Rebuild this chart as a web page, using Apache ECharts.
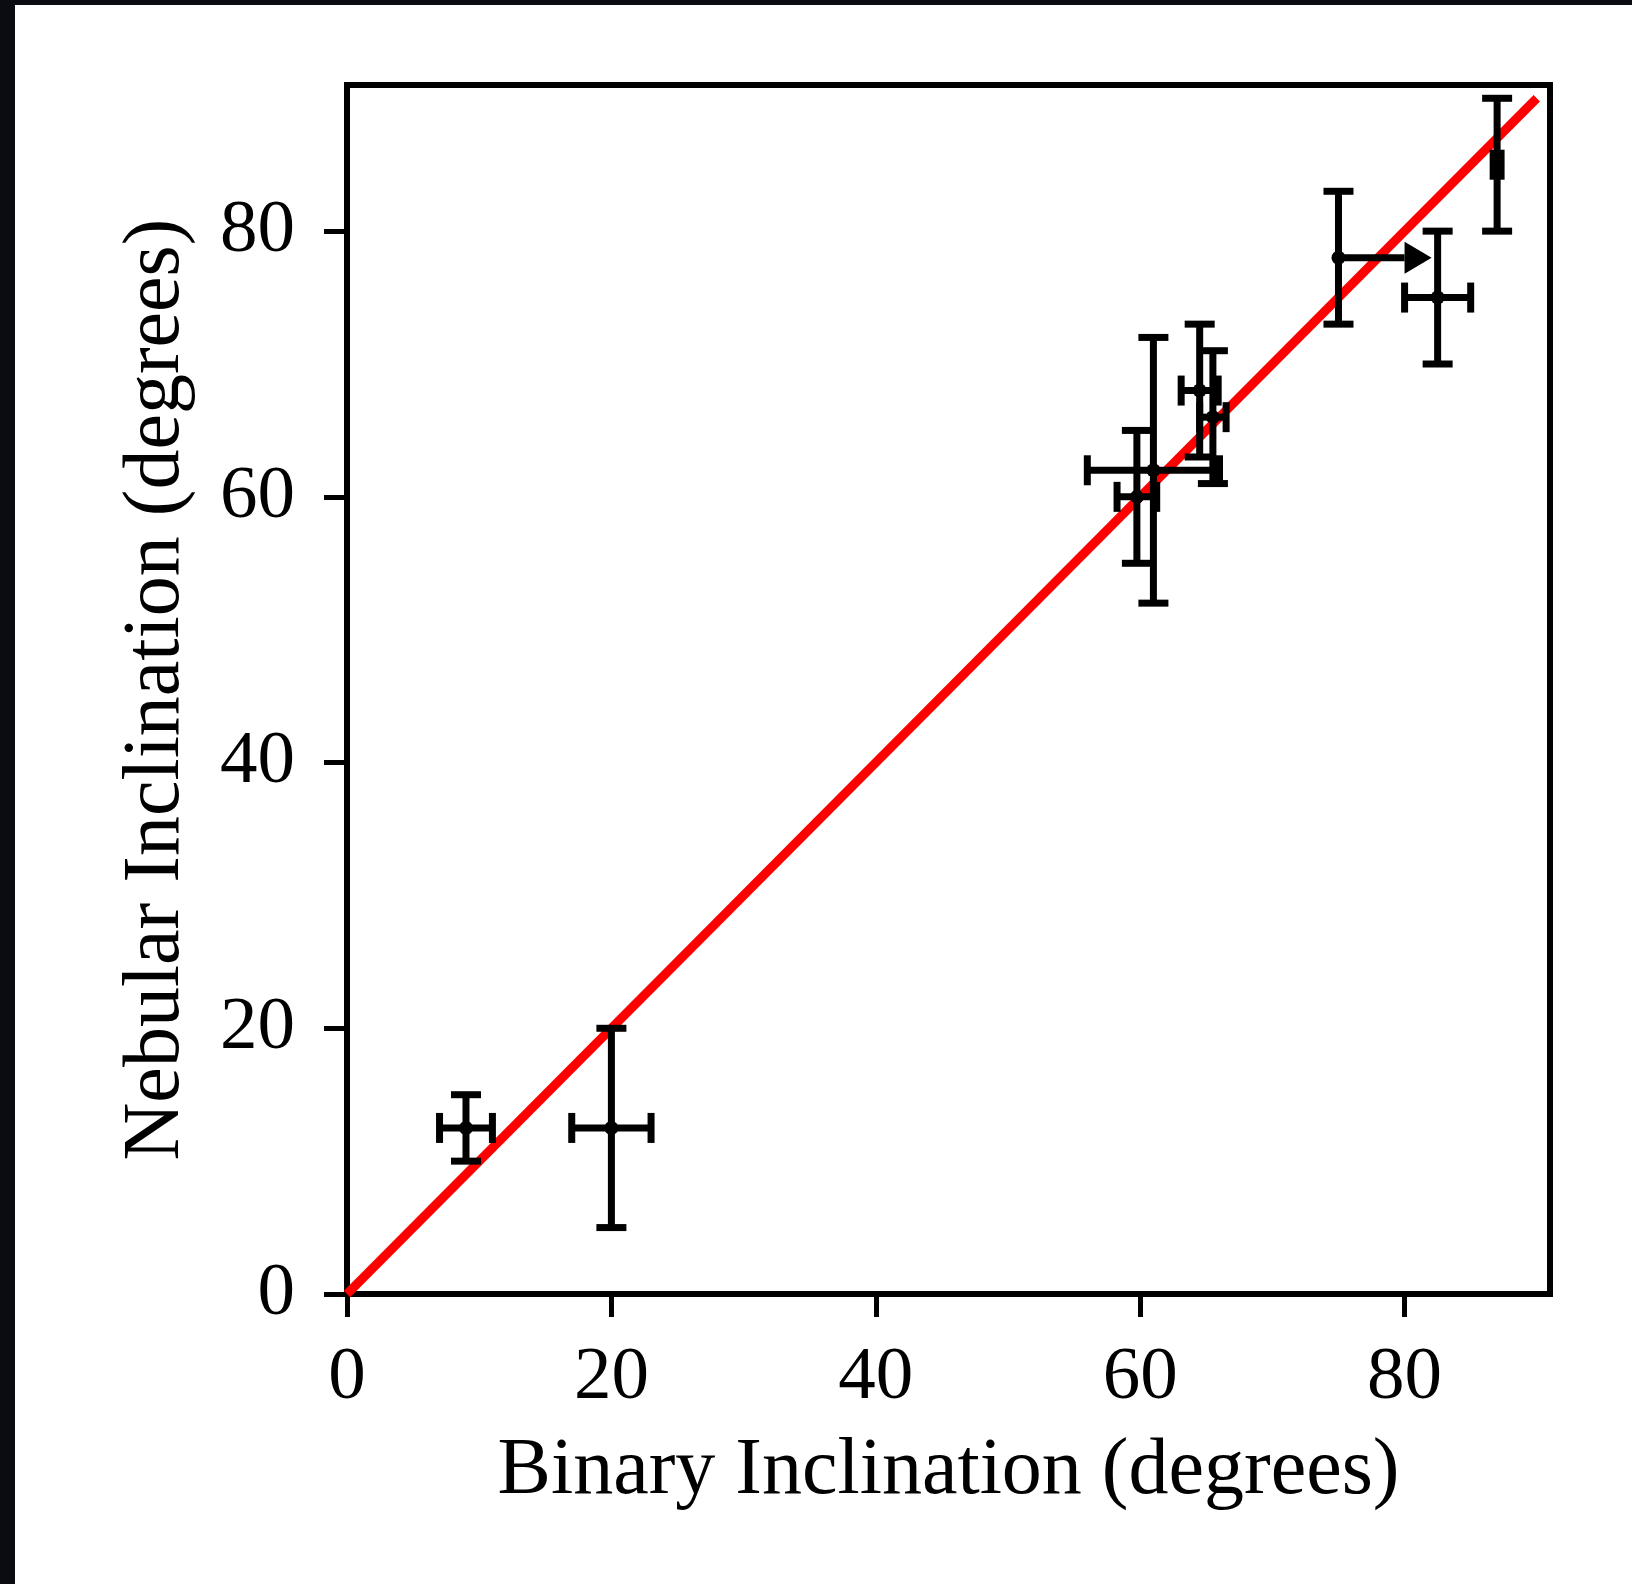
<!DOCTYPE html>
<html>
<head>
<meta charset="utf-8">
<script src="https://cdn.jsdelivr.net/npm/echarts@6/dist/echarts.min.js"></script>
<style>
html,body{margin:0;padding:0;background:#fff;}
#chart{width:1632px;height:1584px;}
</style>
</head>
<body>
<div id="chart"></div>
<script>
// ---- data ----
const xVals  = [9,   20,   61,  59.75, 64.5, 65.5, 75,  82.5, 87];
const yVals  = [12.5, 12.5, 62,  60,    68,   66,   78,  75,   85];
const xErrLo = [2,   3,    5,   1.5,   1.4,  1,    0,   2.5,  0.3];
const xErrHi = [2,   3,    5,   1.5,   1.4,  1,    5,   2.5,  0.3];
const yErr   = [2.5, 7.5,  10,  5,     5,    5,    5,   5,    5];
const xLowerLimit = [0, 0, 0, 0, 0, 0, 1, 0, 0];
const lineX = [0, 90];
const lineY = [0, 90];
const tickValues = [0, 20, 40, 60, 80];
const axisMax = 91;

const FONT = 'Liberation Serif';
const errData = xVals.map((x, i) => [x, yVals[i], xErrLo[i], xErrHi[i], yErr[i], xLowerLimit[i]]);

const chart = echarts.init(document.getElementById('chart'), null, {renderer: 'canvas'});

function renderErr(params, api) {
  const x = api.value(0), y = api.value(1);
  const xl = api.value(2), xh = api.value(3), ye = api.value(4), lim = api.value(5);
  const c = api.coord([x, y]);
  const pL = api.coord([x - xl, y]);
  const pR = api.coord([x + xh, y]);
  const pT = api.coord([x, y + ye]);
  const pB = api.coord([x, y - ye]);
  const cap = 15;
  const st = {stroke: '#000', lineWidth: 7, lineCap: 'butt'};
  const ch = [];
  ch.push({type: 'line', shape: {x1: pT[0], y1: pT[1], x2: pB[0], y2: pB[1]}, style: st});
  ch.push({type: 'line', shape: {x1: pT[0] - cap, y1: pT[1], x2: pT[0] + cap, y2: pT[1]}, style: st});
  ch.push({type: 'line', shape: {x1: pB[0] - cap, y1: pB[1], x2: pB[0] + cap, y2: pB[1]}, style: st});
  if (lim) {
    ch.push({type: 'line', shape: {x1: c[0], y1: c[1], x2: pR[0], y2: pR[1]}, style: st});
    ch.push({type: 'polygon', shape: {points: [[pR[0], pR[1] - 16], [pR[0] + 27, pR[1]], [pR[0], pR[1] + 16]]}, style: {fill: '#000'}});
  } else {
    ch.push({type: 'line', shape: {x1: pL[0], y1: pL[1], x2: pR[0], y2: pR[1]}, style: st});
    ch.push({type: 'line', shape: {x1: pL[0], y1: pL[1] - cap, x2: pL[0], y2: pL[1] + cap}, style: st});
    ch.push({type: 'line', shape: {x1: pR[0], y1: pR[1] - cap, x2: pR[0], y2: pR[1] + cap}, style: st});
  }
  ch.push({type: 'circle', shape: {cx: c[0], cy: c[1], r: 7}, style: {fill: '#000'}});
  return {type: 'group', children: ch};
}

const axisCommon = {
  type: 'value',
  min: 0,
  max: axisMax,
  interval: 20,
  splitLine: {show: false},
  axisLine: {show: false},
  axisTick: {show: true, inside: false, length: 23, lineStyle: {color: '#000', width: 5}, customValues: tickValues},
  nameLocation: 'middle',
  nameTextStyle: {fontFamily: FONT, fontSize: 80, color: '#000'}
};

chart.setOption({
  backgroundColor: '#fff',
  animation: false,
  graphic: [
    {type: 'rect', left: 0, top: 0, shape: {width: 1632, height: 5}, style: {fill: '#0b0b12'}, z: 100},
    {type: 'rect', left: 0, top: 0, shape: {width: 15, height: 1584}, style: {fill: '#0b0b12'}, z: 100}
  ],
  grid: {left: 347, right: 82, top: 85, bottom: 290, show: true, borderColor: '#000', borderWidth: 6, backgroundColor: 'transparent'},
  xAxis: Object.assign({}, axisCommon, {
    name: 'Binary Inclination (degrees)',
    nameGap: 138,
    axisLabel: {fontFamily: FONT, fontSize: 75, color: '#000', margin: 47, customValues: tickValues}
  }),
  yAxis: Object.assign({}, axisCommon, {
    name: 'Nebular Inclination (degrees)',
    nameGap: 150,
    axisLabel: {fontFamily: FONT, fontSize: 75, color: '#000', margin: 52, customValues: tickValues}
  }),
  series: [
    {
      type: 'line',
      data: lineX.map((v, i) => [v, lineY[i]]),
      showSymbol: false,
      lineStyle: {color: '#ff0000', width: 9},
      z: 1,
      silent: true
    },
    {
      type: 'custom',
      data: errData,
      renderItem: renderErr,
      encode: {x: 0, y: 1},
      z: 2,
      clip: false
    }
  ]
});
</script>
</body>
</html>
